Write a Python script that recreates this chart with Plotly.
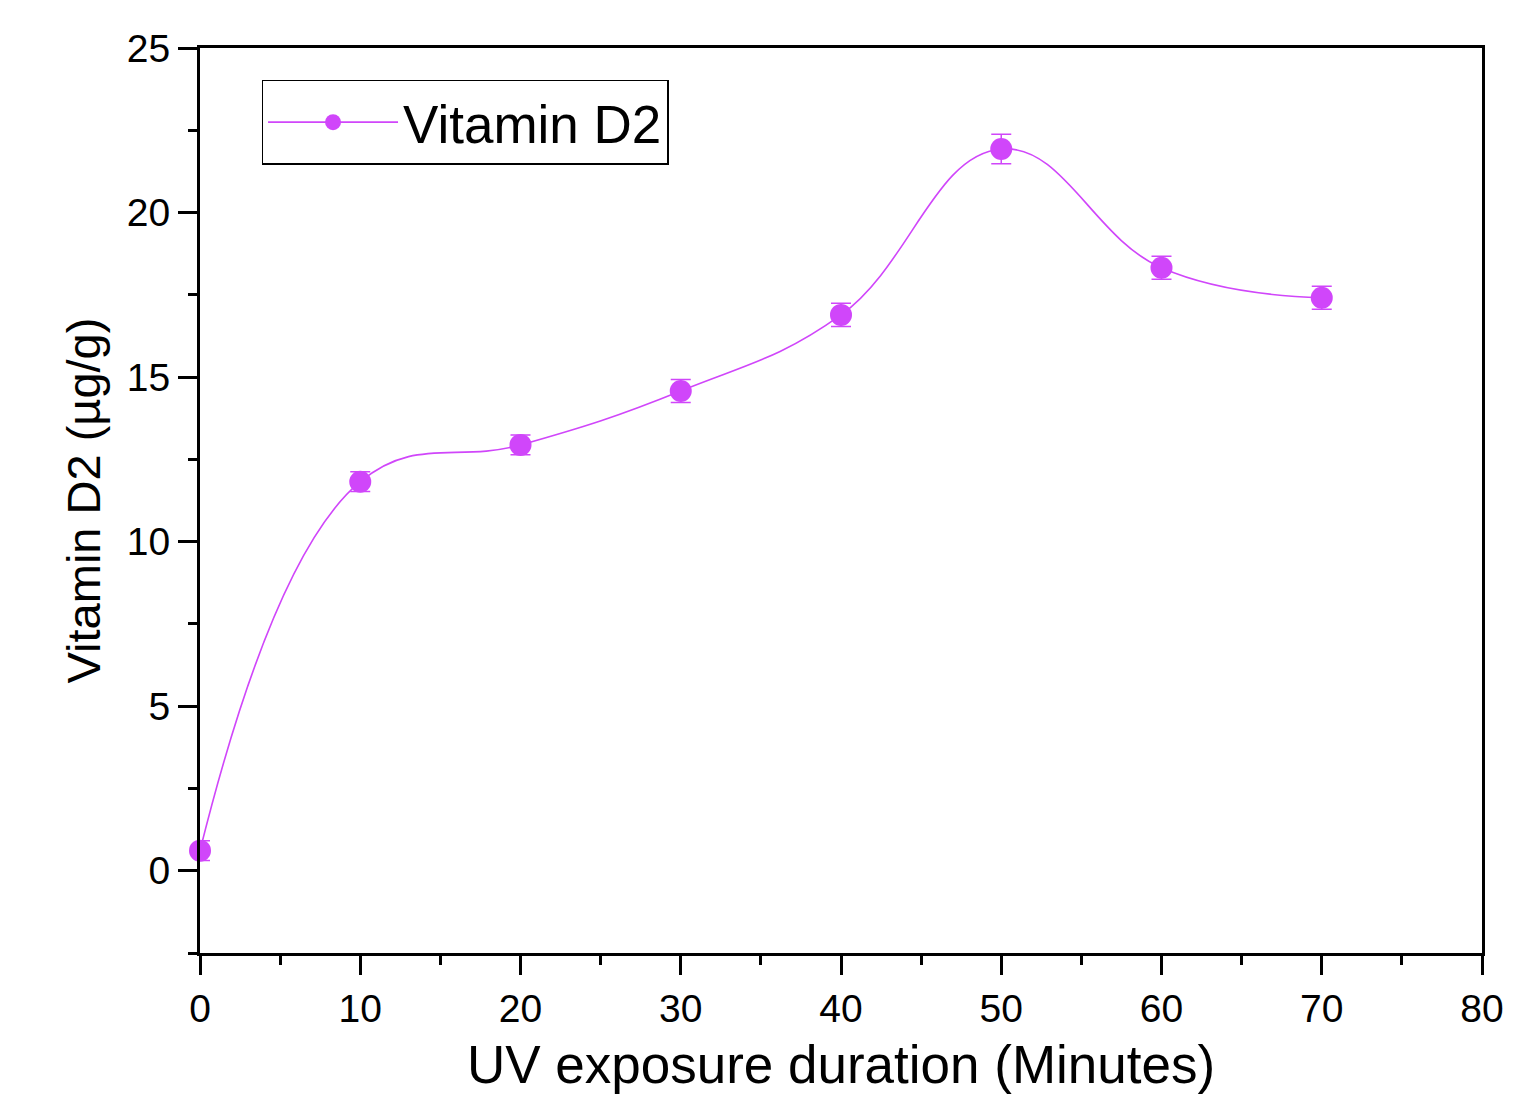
import plotly.graph_objects as go

# data
minutes = [0, 10, 20, 30, 40, 50, 60, 70]
vitamin_d2 = [0.61, 11.82, 12.94, 14.58, 16.89, 21.93, 18.32, 17.41]
vitamin_d2_err = [0.3, 0.3, 0.3, 0.35, 0.35, 0.45, 0.35, 0.35]

purple = "#D046FA"
font_family = "Liberation Sans, Arial"

fig = go.Figure(
    go.Scatter(
        x=minutes, y=vitamin_d2,
        mode="lines+markers",
        name="Vitamin D2",
        line=dict(color=purple, width=1.6, shape="spline", smoothing=1.2),
        marker=dict(color=purple, size=22),
        error_y=dict(type="data", array=vitamin_d2_err, color=purple,
                     thickness=1.5, width=10),
        cliponaxis=False,
    )
)

axis_common = dict(
    showline=True, linecolor="black", linewidth=3, mirror=True,
    ticks="outside", ticklen=19, tickwidth=3, tickcolor="black",
    showgrid=False, zeroline=False,
    tickfont=dict(family=font_family, size=39, color="black"),
)

fig.update_xaxes(
    range=[0, 80], dtick=10,
    minor=dict(dtick=5, ticks="outside", ticklen=9, tickwidth=3, tickcolor="black"),
    title=dict(text="UV exposure duration (Minutes)", standoff=18,
               font=dict(family=font_family, size=53, color="black")),
    **axis_common,
)
fig.update_yaxes(
    range=[-2.5, 25], dtick=5,
    minor=dict(dtick=2.5, ticks="outside", ticklen=9, tickwidth=3, tickcolor="black"),
    title=dict(text="Vitamin D2 (µg/g)", standoff=12,
               font=dict(family=font_family, size=47, color="black")),
    **axis_common,
)

# the page body adds ~8px offset, so margins are shifted to compensate
fig.update_layout(
    width=1529, height=1119,
    plot_bgcolor="white", paper_bgcolor="white",
    margin=dict(l=192, r=55, t=40, b=174),
    showlegend=True,
    legend=dict(
        x=0.048, y=0.965, xanchor="left", yanchor="top",
        bordercolor="black", borderwidth=1.5, bgcolor="white",
        font=dict(family=font_family, size=53, color="black"),
        itemwidth=130,
    ),
)

fig.write_html("out.html")
